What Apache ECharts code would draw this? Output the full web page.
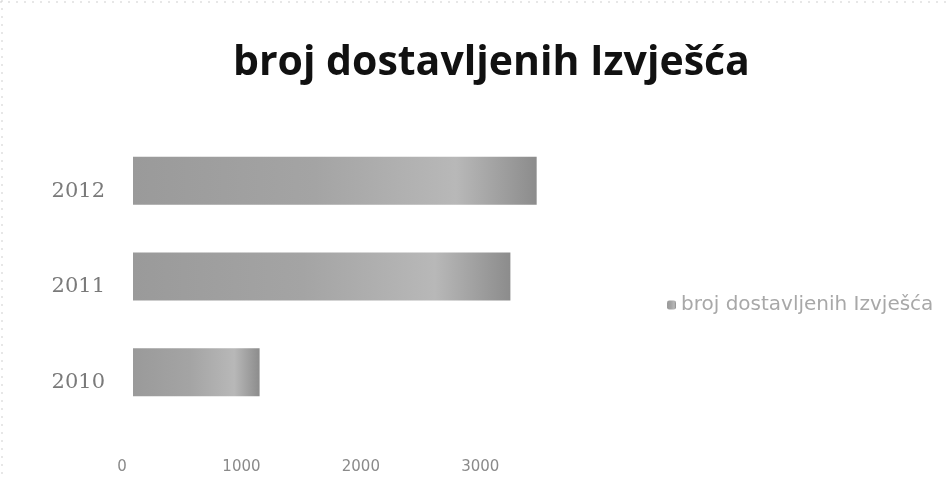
<!DOCTYPE html>
<html>
<head>
<meta charset="utf-8">
<script src="https://cdn.jsdelivr.net/npm/echarts@6/dist/echarts.min.js"></script>
<style>html,body{margin:0;padding:0;background:#fff;}#c{width:946px;height:479px;}</style>
</head>
<body>
<div id="c"></div>
<script>
const titleText = 'broj dostavljenih Izvješća';
const seriesName = 'broj dostavljenih Izvješća';
const categories = ['2010', '2011', '2012'];
const values = [1060, 3160, 3380];

const chart = echarts.init(document.getElementById('c'), null, {renderer: 'canvas'});
chart.setOption({
  animation: false,
  backgroundColor: '#ffffff',
  title: {
    text: titleText,
    left: 228,
    top: 38,
    textStyle: {fontFamily: 'Open Sans', fontWeight: 'bold', fontSize: 41, color: '#111'}
  },
  legend: {
    data: [seriesName],
    left: 662,
    top: 290,
    itemWidth: 9,
    itemHeight: 9,
    itemGap: 4,
    textStyle: {fontFamily: 'DejaVu Sans', fontSize: 20, color: '#a8a8a8'}
  },
  graphic: [
    {type: 'line', shape: {x1: 0, y1: 2, x2: 946, y2: 2}, style: {stroke: '#cfcfcf', lineWidth: 1, lineDash: [2, 6]}},
    {type: 'line', shape: {x1: 2, y1: 0, x2: 2, y2: 479}, style: {stroke: '#cfcfcf', lineWidth: 1, lineDash: [2, 6]}}
  ],
  grid: {left: 133, right: 395, top: 133, bottom: 59, containLabel: false},
  xAxis: {
    type: 'value',
    min: 0,
    max: 3500,
    interval: 1000,
    axisLine: {show: false},
    axisTick: {show: false},
    splitLine: {show: false},
    axisLabel: {
      showMaxLabel: false,
      margin: 40,
      padding: [0, 22, 0, 0],
      formatter: function (v) { return String(v); },
      fontFamily: 'DejaVu Sans',
      fontSize: 15,
      color: '#8a8a8a'
    }
  },
  yAxis: {
    type: 'category',
    data: categories,
    axisLine: {show: false},
    axisTick: {show: false},
    splitLine: {show: false},
    axisLabel: {
      margin: 28,
      verticalAlign: 'top',
      fontFamily: 'DejaVu Serif',
      fontSize: 21,
      color: '#7a7a7a'
    }
  },
  series: [{
    name: seriesName,
    type: 'bar',
    data: values,
    barWidth: 48,
    itemStyle: {
      color: new echarts.graphic.LinearGradient(0, 0, 1, 0, [
        {offset: 0, color: '#9a9a9a'},
        {offset: 0.45, color: '#a4a4a4'},
        {offset: 0.8, color: '#b8b8b8'},
        {offset: 1, color: '#8c8c8c'}
      ])
    }
  }]
});
</script>
</body>
</html>
